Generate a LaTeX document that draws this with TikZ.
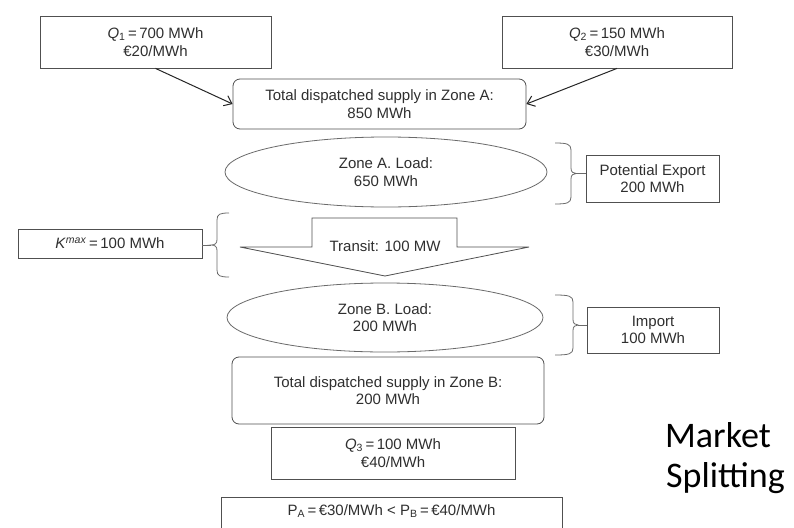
\documentclass[tikz,border=0pt]{standalone}
\usepackage{fontspec}
\setmainfont{Liberation Sans}
\newfontfamily\calfont{Carlito}
\usetikzlibrary{shapes.geometric,arrows.meta,calc}
\definecolor{lnc}{HTML}{505050}
\definecolor{txc}{HTML}{2f2f2f}
\begin{document}
\begin{tikzpicture}[x=1pt,y=-1pt,
  box/.style={draw=lnc, line width=0.8pt, rectangle, inner sep=0pt, align=center, text=txc, font=\fontsize{15}{17.5}\selectfont},
  rbox/.style={box, rounded corners=7pt},
  ell/.style={box, ellipse, draw=lnc!85},
  arr/.style={draw=black!85, line width=1pt, -{Straight Barb[length=7pt,width=11pt]}},
  stub/.style={draw=lnc!85, line width=0.8pt},
  lbl/.style={text=txc, inner sep=0pt, font=\fontsize{15}{17.5}\selectfont},
  big/.style={text=black, inner sep=0pt, anchor=base west, font=\calfont\fontsize{36}{40}\selectfont}]
\useasboundingbox (0,0) rectangle (794,527);
\clip (0,0) rectangle (794,527);
\fill[white] (0,0) rectangle (794,527);

\node[box, minimum width=231pt, minimum height=52pt] (q1) at (155.5,42) {\textit{Q}\textsubscript{1}\,=\,700 MWh\\€20/MWh};
\node[box, minimum width=230pt, minimum height=52pt] (q2) at (617,42) {\textit{Q}\textsubscript{2}\,=\,150 MWh\\€30/MWh};
\node[rbox, minimum width=293pt, minimum height=50pt] (tota) at (379.5,104) {Total dispatched supply in Zone A:\\850 MWh};
\node[ell, minimum width=322pt, minimum height=70pt] (ella) at (386,172) {Zone A. Load:\\650 MWh};
\node[box, minimum width=133pt, minimum height=47pt] (exp) at (652.5,178.5) {Potential Export\\200 MWh};
\node[box, minimum width=184pt, minimum height=29pt] (kmax) at (110,243.5) {\textit{K}\textsuperscript{\textit{max}}\,=\,100 MWh};

\draw[lnc, line width=0.8pt] (312,218) -- (457,218) -- (457,247) -- (529,247) -- (385,276) -- (240,247) -- (312,247) -- cycle;
\node[lbl] (tr) at (385,246) {Transit: 100 MW};

\node[ell, minimum width=316pt, minimum height=69pt] (ellb) at (385,317.5) {Zone B. Load:\\200 MWh};
\node[box, minimum width=132pt, minimum height=46pt] (imp) at (653,330) {Import\\100 MWh};
\node[rbox, minimum width=312pt, minimum height=67pt] (totb) at (388,390.5) {Total dispatched supply in Zone B:\\200 MWh};
\node[box, minimum width=244pt, minimum height=52pt] (q3) at (393,453) {\textit{Q}\textsubscript{3}\,=\,100 MWh\\€40/MWh};
\node[box, anchor=north, minimum width=341pt, text height=15pt, text depth=30pt, inner ysep=3pt] (pp) at (391.5,497) {P\textsubscript{A}\,=\,€30/MWh < P\textsubscript{B}\,=\,€40/MWh};

\node[big] (m1) at (665,447) {Market};
\node[big] (m2) at (666,487) {Splitting};

% arrows
\draw[arr] (q1.south) -- (tota.west);
\draw[arr] (q2.south) -- (tota.east);

% brace right of zone A
\coordinate (ba) at (576,173.5);
\draw[stub] (555,143) .. controls (567,143) and (571,144) .. (571,150) -- (571,168)
  .. controls (571,172) and (573,173.5) .. (ba)
  .. controls (573,173.5) and (571,175) .. (571,179) -- (571,197)
  .. controls (571,203) and (567,204) .. (555,204);
\draw[stub] (ba) -- (ba -| exp.west);

% brace left of transit
\coordinate (bk) at (211,245);
\draw[stub] (229,213) .. controls (220,213) and (217,214) .. (217,220) -- (217,239.5)
  .. controls (217,243.5) and (215,245) .. (bk)
  .. controls (215,245) and (217,246.5) .. (217,250.5) -- (217,270)
  .. controls (217,276) and (220,277) .. (229,277);
\draw[stub] (bk) -- (bk -| kmax.east);

% brace right of zone B
\coordinate (bi) at (578,325);
\draw[stub] (555,295) .. controls (569,295) and (573,296) .. (573,302) -- (573,319.5)
  .. controls (573,323.5) and (575,325) .. (bi)
  .. controls (575,325) and (573,326.5) .. (573,330.5) -- (573,348)
  .. controls (573,354) and (569,355) .. (555,355);
\draw[stub] (bi) -- (bi -| imp.west);
\end{tikzpicture}
\end{document}
